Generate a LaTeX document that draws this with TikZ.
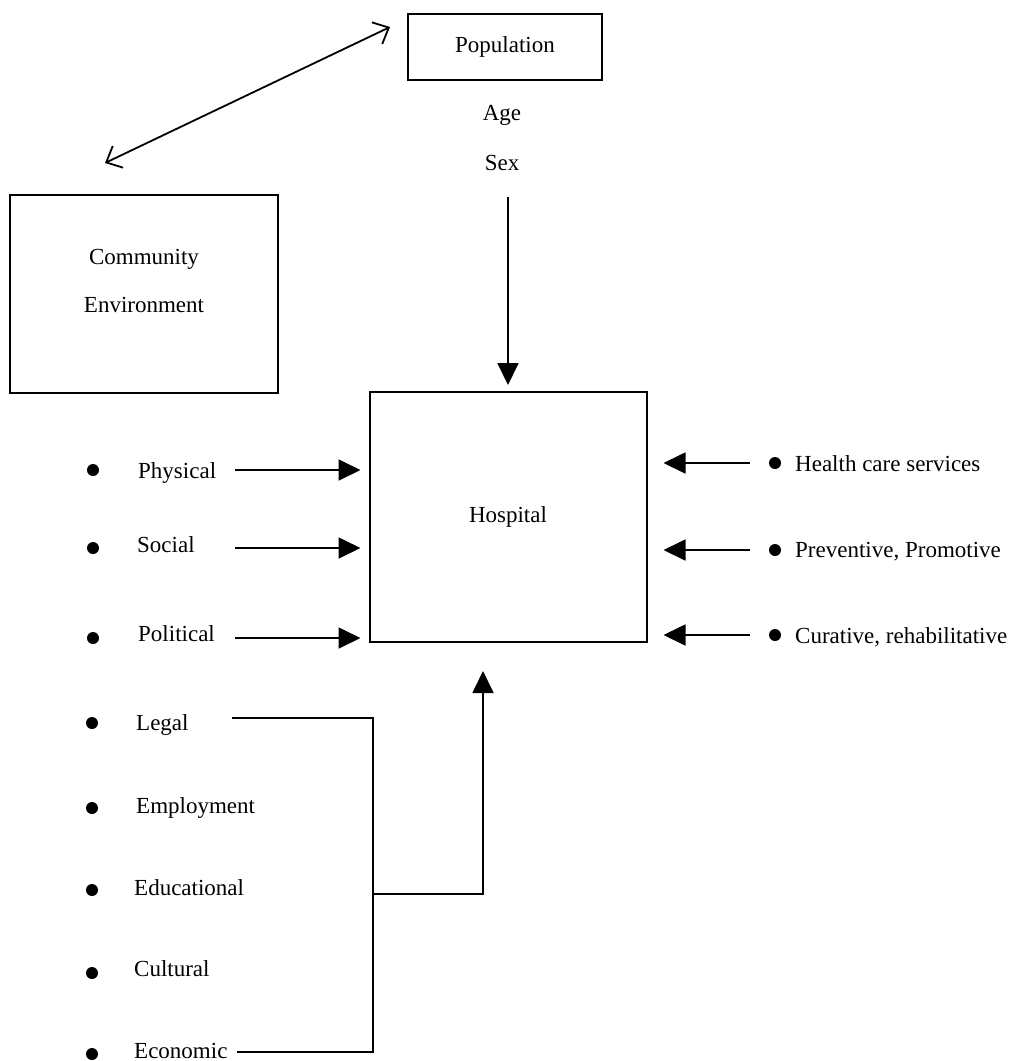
\documentclass[tikz,border=0pt]{standalone}
\usepackage{fontspec}
\setmainfont{Liberation Serif}
\usetikzlibrary{arrows.meta}

\begin{document}
\begin{tikzpicture}[x=1pt, y=-1pt,
  box/.style={draw, line width=2pt, inner sep=0pt},
  lbl/.style={font=\fontsize{23}{28}\selectfont, inner sep=0pt},
  dot/.style={circle, fill, inner sep=0pt, minimum size=12pt},
  link/.style={line width=1.8pt},
  arr/.style={link, -{Triangle[length=22pt,width=21pt]}},
  barb/.style={link, {Straight Barb[length=13pt,width=24pt]}-{Straight Barb[length=13pt,width=24pt]}}]
\useasboundingbox (0,0) rectangle (1018,1061);

% Create the three boxes
\node[box, lbl, minimum width=194pt, minimum height=66pt] (population) at (505,47) {Population};
\node[box, minimum width=268pt, minimum height=198pt] (community) at (144,294) {};
\node[lbl, align=center] (commtext) at (144,281) {Community\\[20pt]Environment};
\node[box, lbl, minimum width=277pt, minimum height=250pt] (hospital) at (508,517) {Hospital};

\node[lbl] (age) at (502,115) {Age};
\node[lbl] (sex) at (502,163) {Sex};

% Population <-> community
\coordinate (commtip) at (105,163);
\coordinate (poptip) at (390,27);
\draw[barb] (commtip) -- (poptip);

% Age, sex into the hospital
\coordinate (agesex) at (508,197);
\draw[arr, shorten >=6pt] (agesex) -- (hospital.north);

% Left items
\node[dot] (physdot) at (93,470) {};
\node[lbl, anchor=base west] (physical) at (138,478) {Physical};
\node[dot] (socdot) at (93,548) {};
\node[lbl, anchor=base west] (social) at (137,552) {Social};
\node[dot] (poldot) at (93,638) {};
\node[lbl, anchor=base west] (political) at (138,641) {Political};
\node[dot] (legdot) at (92,723) {};
\node[lbl, anchor=base west] (legal) at (136,730) {Legal};
\node[dot] (empdot) at (92,808) {};
\node[lbl, anchor=base west] (employment) at (136,813) {Employment};
\node[dot] (edudot) at (92,890) {};
\node[lbl, anchor=base west] (educational) at (134,895) {Educational};
\node[dot] (culdot) at (92,973) {};
\node[lbl, anchor=base west] (cultural) at (134,976) {Cultural};
\node[dot] (ecodot) at (92,1054) {};
\node[lbl, anchor=base west] (economic) at (134,1058) {Economic};

% Right items
\node[dot] (hcsdot) at (775,463) {};
\node[lbl, anchor=base west] (hcs) at (795,471) {Health care services};
\node[dot] (prevdot) at (775,550) {};
\node[lbl, anchor=base west] (prev) at (795,557) {Preventive, Promotive};
\node[dot] (curdot) at (775,635) {};
\node[lbl, anchor=base west] (cur) at (795,643) {Curative, rehabilitative};

% Arrows into the hospital
\coordinate (physt) at (235,470);
\coordinate (soct) at (235,548);
\coordinate (polt) at (235,638);
\draw[arr, shorten >=8pt] (physt) -- (physt -| hospital.west);
\draw[arr, shorten >=8pt] (soct) -- (soct -| hospital.west);
\draw[arr, shorten >=8pt] (polt) -- (polt -| hospital.west);
\coordinate (hcst) at (750,463);
\coordinate (prevt) at (750,550);
\coordinate (curt) at (750,635);
\draw[arr, shorten >=16pt] (hcst) -- (hcst -| hospital.east);
\draw[arr, shorten >=16pt] (prevt) -- (prevt -| hospital.east);
\draw[arr, shorten >=16pt] (curt) -- (curt -| hospital.east);

% Bracket from legal to economic
\coordinate (legt) at (232,718);
\coordinate (ecot) at (237,1052);
\coordinate (join) at (373,894);
\draw[link] (legt) -- (legt -| join) -- (ecot -| join) -- (ecot);
\draw[arr, shorten >=28pt] (join) -| ([xshift=-25pt]hospital.south);
\end{tikzpicture}
\end{document}
